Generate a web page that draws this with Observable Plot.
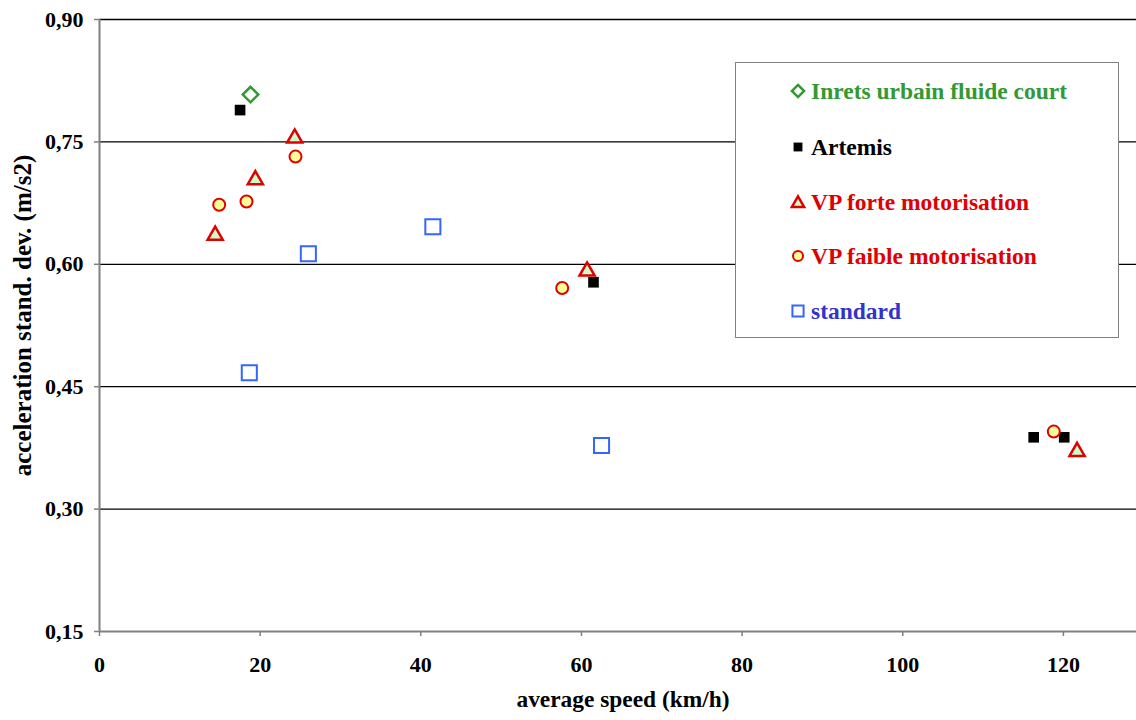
<!DOCTYPE html>
<html><head><meta charset="utf-8">
<script src="https://cdn.jsdelivr.net/npm/d3@7"></script>
<script src="https://cdn.jsdelivr.net/npm/@observablehq/plot@0.6"></script>
<style>
body{margin:0;background:#fff;}
#wrap{position:relative;width:1136px;height:720px;overflow:hidden;}
#legend{position:absolute;left:735px;top:62px;width:384px;height:276px;border:1.5px solid #808080;background:#fff;box-sizing:border-box;font-family:"Liberation Serif","Times New Roman",serif;font-weight:bold;font-size:23.5px;}
.row{position:absolute;left:0;height:30px;line-height:30px;white-space:nowrap;}
.row svg{position:absolute;left:54px;top:7px;}
.row span{position:absolute;left:75px;top:0;}
</style></head><body><div id="wrap"><div id="legend"></div></div>
<script>
const seriesNames = ["Inrets urbain fluide court","Artemis","VP forte motorisation","VP faible motorisation","standard"];
const inretsX = [18.8];
const inretsY = [0.808];
const artemisX = [17.5, 61.5, 116.3, 120.1];
const artemisY = [0.789, 0.578, 0.388, 0.388];
const forteX = [14.4, 19.4, 24.3, 60.7, 121.7];
const forteY = [0.638, 0.706, 0.757, 0.594, 0.373];
const faibleX = [14.9, 18.3, 24.4, 57.6, 118.8];
const faibleY = [0.673, 0.677, 0.732, 0.571, 0.395];
const standardX = [18.65, 26.0, 41.5, 62.5];
const standardY = [0.467, 0.613, 0.646, 0.378];
const yTicks = [0.15, 0.30, 0.45, 0.60, 0.75, 0.90];
const xTicks = [0, 20, 40, 60, 80, 100, 120];
const xTitle = "average speed (km/h)";
const yTitle = "acceleration stand. dev. (m/s2)";

const pts = (xs, ys) => xs.map((x, i) => ({x, y: ys[i]}));
const styles = [
  {symbol: "diamond2", r: 7, fill: "none", stroke: "#339933", strokeWidth: 2.5, text: "#339933", lr: 5.5},
  {symbol: "square", r: 6, fill: "#000", stroke: "none", strokeWidth: 0, text: "#000", lr: 5},
  {symbol: "triangle", r: 5.6, fill: "#ccffcc", stroke: "#e00000", strokeWidth: 2.5, text: "#e00000", lr: 4.6, dy: 2},
  {symbol: "circle", r: 6, fill: "#ffff99", stroke: "#e00000", strokeWidth: 2, text: "#e00000", lr: 5},
  {symbol: "square", r: 8.5, fill: "none", stroke: "#3366ff", strokeWidth: 2, text: "#3333cc", lr: 6.3}
];
const data = [pts(inretsX, inretsY), pts(artemisX, artemisY), pts(forteX, forteY), pts(faibleX, faibleY), pts(standardX, standardY)];

const chart = Plot.plot({
  width: 1136, height: 720,
  marginLeft: 99, marginRight: 0, marginTop: 19, marginBottom: 89,
  style: {fontFamily: "Liberation Serif, Times New Roman, serif", fontWeight: "bold", fontSize: "22px", color: "#000", background: "#fff"},
  x: {domain: [0, 129.1]},
  y: {domain: [0.15, 0.90]},
  marks: [
    Plot.ruleY(yTicks.filter(d => d > 0.15), {stroke: "#000", strokeWidth: 1.3}),
    Plot.axisY({ticks: yTicks, tickFormat: d => d.toFixed(2).replace(".", ","), tickSize: 5, tickPadding: 11, stroke: "#808080", strokeWidth: 1.5, label: null}),
    Plot.axisX({ticks: xTicks, tickSize: 5, tickPadding: 20, stroke: "#808080", strokeWidth: 1.5, label: null}),
    Plot.text([yTitle], {frameAnchor: "left", textAnchor: "middle", rotate: -90, dx: -77, dy: -10, fontSize: 25, fontWeight: "bold"}),
    Plot.text([xTitle], {frameAnchor: "bottom", textAnchor: "middle", dx: 5, dy: 75, fontSize: 23.4, fontWeight: "bold"}),
    Plot.ruleX([0], {stroke: "#808080", strokeWidth: 2}),
    Plot.ruleY([0.15], {stroke: "#808080", strokeWidth: 2}),
    ...data.map((d, i) => Plot.dot(d, {x: "x", y: "y", symbol: styles[i].symbol, r: styles[i].r, fill: styles[i].fill,
      stroke: styles[i].stroke, strokeWidth: styles[i].strokeWidth, dy: styles[i].dy || 0}))
  ]
});
const wrap = document.getElementById("wrap");
wrap.insertBefore(chart, wrap.firstChild);
chart.style.position = "absolute"; chart.style.left = "0"; chart.style.top = "0";

const legend = d3.select("#legend");
const rowTops = [13, 69, 124, 178, 233];
seriesNames.forEach((name, i) => {
  const s = styles[i];
  const row = legend.append("div").attr("class", "row").style("top", rowTops[i] + "px");
  const svg = row.append("svg").attr("width", 16).attr("height", 16);
  const symMap = {diamond2: d3.symbolDiamond2, square: d3.symbolSquare, triangle: d3.symbolTriangle, circle: d3.symbolCircle};
  svg.append("path").attr("transform", "translate(8," + (8 + (s.dy ? 1.5 : 0)) + ")")
    .attr("d", d3.symbol(symMap[s.symbol], Math.PI * s.lr * s.lr)())
    .attr("fill", s.fill).attr("stroke", s.stroke).attr("stroke-width", s.strokeWidth);
  row.append("span").style("color", s.text).text(name);
});
</script></body></html>
